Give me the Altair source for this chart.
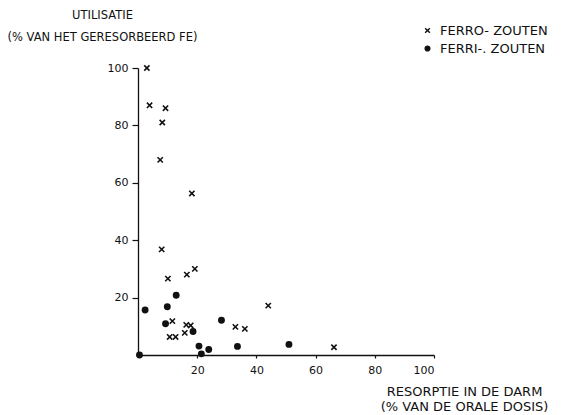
import altair as alt
import pandas as pd

# Ferro-zouten (crosses)
ferro_x = [3.0, 3.9, 9.3, 8.2, 7.5, 18.2, 8.0, 19.2, 16.5, 10.1, 44.0, 11.6, 16.3, 17.8, 15.8, 10.7, 12.7, 32.9, 36.1, 66.2]
ferro_y = [100, 87, 86, 81, 68, 56.3, 36.8, 30, 28, 26.6, 17.2, 11.8, 10.5, 10.3, 7.7, 6.3, 6.3, 9.8, 9.1, 2.7]
# Ferri-zouten (dots)
ferri_x = [2.4, 9.9, 12.9, 9.3, 18.6, 28.2, 20.6, 23.9, 21.4, 33.6, 51.0, 0.5]
ferri_y = [15.7, 16.8, 20.8, 10.9, 8.2, 12.1, 3.1, 1.9, 0.4, 3.0, 3.7, 0.0]

series_names = ["FERRO- ZOUTEN", "FERRI-. ZOUTEN"]
tick_values = [20, 40, 60, 80, 100]

df = pd.concat([
    pd.DataFrame({"x": ferro_x, "y": ferro_y, "s": series_names[0]}),
    pd.DataFrame({"x": ferri_x, "y": ferri_y, "s": series_names[1]}),
])

FONT = "DejaVu Sans"
INK = "#111"
xpath = "M-1,-1L1,1M1,-1L-1,1"

leg = alt.Legend(title=None, orient="none", legendX=283, legendY=-44,
                 symbolSize=22, symbolStrokeWidth=1.4,
                 labelFontSize=13, rowPadding=4, labelOffset=6)

chart = alt.Chart(df).mark_point(
    filled=False, strokeWidth=1.6, opacity=1, clip=False
).encode(
    x=alt.X("x:Q", scale=alt.Scale(domain=[0, 100], nice=False, zero=True),
            axis=alt.Axis(values=tick_values, grid=False, tickSize=3, labelPadding=6,
                          title=["RESORPTIE IN DE DARM", "(% VAN DE ORALE DOSIS)"],
                          titleX=326, titleY=30, titleAlign="center", titleBaseline="top",
                          titleLineHeight=15, titleFontSize=13, titleFontWeight="normal")),
    y=alt.Y("y:Q", scale=alt.Scale(domain=[0, 100], nice=False),
            axis=alt.Axis(values=tick_values, grid=False, tickSize=6, labelPadding=4,
                          title=["UTILISATIE", "(% VAN HET GERESORBEERD FE)"],
                          titleAngle=0, titleX=-36, titleY=-59, titleAlign="center",
                          titleBaseline="top", titleLineHeight=22, titleFontSize=11.5,
                          titleFontWeight="normal")),
    shape=alt.Shape("s:N", scale=alt.Scale(domain=series_names, range=[xpath, "circle"]), legend=leg),
    stroke=alt.Stroke("s:N", scale=alt.Scale(domain=series_names, range=[INK, INK]), legend=leg),
    fill=alt.Fill("s:N", scale=alt.Scale(domain=series_names, range=[INK, INK]), legend=leg),
    size=alt.value(28),
).properties(
    width=296, height=287,
    autosize=alt.AutoSizeParams(type="none"),
    padding={"left": 138, "top": 68, "right": 131, "bottom": 60},
).configure_view(stroke=None).configure_axis(
    domainColor=INK, domainWidth=1.3, tickColor=INK, tickWidth=1.2,
    labelFont=FONT, labelFontSize=11, labelColor=INK,
    titleFont=FONT, titleColor=INK,
).configure_legend(labelFont=FONT, labelColor=INK)

chart.save("out.html", embed_options={"renderer": "svg", "actions": False})
